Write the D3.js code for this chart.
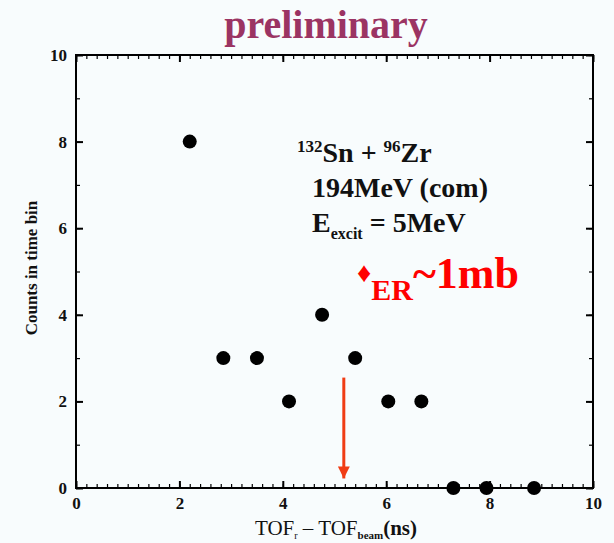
<!DOCTYPE html>
<html><head><meta charset="utf-8">
<script src="https://cdn.jsdelivr.net/npm/d3@7"></script>
<style>
html,body{margin:0;padding:0;background:#f8fcfd;}
svg{display:block;}
svg text{font-family:"Liberation Serif","Times New Roman",serif;}
</style></head>
<body>
<svg id="c" width="614" height="543"></svg>
<script>
const tofValues = [2.2, 2.85, 3.5, 4.12, 4.76, 5.4, 6.04, 6.68, 7.3, 7.94, 8.86];
const countValues = [8, 3, 3, 2, 4, 3, 2, 2, 0, 0, 0];
const xTicks = [0, 2, 4, 6, 8, 10];
const yTicks = [0, 2, 4, 6, 8, 10];
const arrowX = [5.18];
const arrowY = [2.55, 0.22];

const SERIF = "Liberation Serif, Times New Roman, serif";
const svg = d3.select("#c");
const L = 76, R = 593, T = 55, B = 488;
const x = d3.scaleLinear().domain([0, 10]).range([L, R]);
const y = d3.scaleLinear().domain([0, 10]).range([B, T]);

svg.append("rect").attr("width", 614).attr("height", 543).attr("fill", "#f8fcfd");

// title
svg.append("text").attr("x", 326).attr("y", 38).attr("text-anchor", "middle").attr("font-family", SERIF)
  .attr("font-size", 40).attr("font-weight", "bold").attr("fill", "#9b3463").text("preliminary");

// frame
svg.append("rect").attr("x", L).attr("y", T).attr("width", R - L).attr("height", B - T)
  .attr("fill", "none").attr("stroke", "#000").attr("stroke-width", 2);

// axes with inward ticks
const minorX = d3.range(0, 10.001, 0.2);
const minorY = d3.range(0, 10.001, 1);
function addAxis(axis, tr, major, minor, labels) {
  const gMinor = svg.append("g").attr("transform", tr)
    .call(axis.tickValues(minor).tickSize(-4).tickFormat(""));
  gMinor.select(".domain").remove();
  gMinor.selectAll("line").attr("stroke", "#000").attr("stroke-width", 1.2);
  const g = svg.append("g").attr("transform", tr)
    .call(axis.tickValues(major).tickSize(-7).tickPadding(labels ? 9 : 0).tickFormat(labels ? d3.format("d") : ""));
  g.select(".domain").remove();
  g.selectAll("line").attr("stroke", "#000").attr("stroke-width", 2);
  g.selectAll("text").attr("font-size", 17).attr("font-weight", "bold").attr("fill", "#111")
    .attr("font-family", SERIF);
  return g;
}
addAxis(d3.axisBottom(x), `translate(0,${B})`, xTicks, minorX, true);
addAxis(d3.axisTop(x), `translate(0,${T})`, xTicks, minorX, false);
addAxis(d3.axisLeft(y), `translate(${L},0)`, yTicks, minorY, true);
addAxis(d3.axisRight(y), `translate(${R},0)`, yTicks, minorY, false);

// axis labels
svg.append("text").attr("transform", "translate(37,268) rotate(-90)").attr("text-anchor", "middle").attr("font-family", SERIF)
  .attr("font-size", 17).attr("font-weight", "bold").attr("fill", "#111").text("Counts in time bin");

const xl = svg.append("text").attr("x", 336).attr("y", 535).attr("text-anchor", "middle").attr("font-family", SERIF)
  .attr("font-size", 21).attr("fill", "#111");
xl.append("tspan").text("TOF");
xl.append("tspan").attr("font-size", 10).attr("dy", 4).text("r");
xl.append("tspan").attr("dy", -4).text(" \u2013 TOF");
xl.append("tspan").attr("font-size", 11).attr("font-weight", "bold").attr("dy", 4).text("beam");
xl.append("tspan").attr("dy", -4).attr("font-weight", "bold").text("(ns)");

// points
svg.append("g").selectAll("circle").data(tofValues).join("circle")
  .attr("cx", d => x(d)).attr("cy", (d, i) => y(countValues[i])).attr("r", 7).attr("fill", "#000");

// arrow
svg.append("defs").append("marker").attr("id", "ah").attr("viewBox", "0 0 10 10")
  .attr("refX", 10).attr("refY", 5).attr("markerWidth", 4).attr("markerHeight", 4)
  .attr("orient", "auto-start-reverse").attr("markerUnits", "strokeWidth")
  .append("path").attr("d", "M0,0 L10,5 L0,10 z").attr("fill", "#f03c14");
svg.append("line").attr("x1", x(arrowX[0])).attr("x2", x(arrowX[0]))
  .attr("y1", y(arrowY[0])).attr("y2", y(arrowY[1]))
  .attr("stroke", "#f03c14").attr("stroke-width", 3).attr("marker-end", "url(#ah)");

// annotation
const a1 = svg.append("text").attr("x", 297).attr("y", 162).attr("font-family", SERIF).attr("font-size", 28).attr("font-weight", "bold").attr("fill", "#111");
a1.append("tspan").attr("font-size", 17).attr("dy", -10).text("132");
a1.append("tspan").attr("dy", 10).text("Sn + ");
a1.append("tspan").attr("font-size", 17).attr("dy", -10).text("96");
a1.append("tspan").attr("dy", 10).text("Zr");
svg.append("text").attr("x", 312).attr("y", 197).attr("font-family", SERIF).attr("font-size", 28).attr("font-weight", "bold").attr("fill", "#111").text("194MeV (com)");
const a3 = svg.append("text").attr("x", 312).attr("y", 232).attr("font-family", SERIF).attr("font-size", 28).attr("font-weight", "bold").attr("fill", "#111");
a3.append("tspan").text("E");
a3.append("tspan").attr("font-size", 16).attr("dy", 7).text("excit");
a3.append("tspan").attr("dy", -7).text(" = 5MeV");

const a4 = svg.append("text").attr("x", 357).attr("y", 288).attr("font-family", SERIF).attr("font-weight", "bold").attr("fill", "#ff0000");
a4.append("tspan").attr("font-size", 28).attr("dy", -6).text("\u2666");
a4.append("tspan").attr("font-size", 30).attr("dy", 18).text("ER");
a4.append("tspan").attr("font-size", 44).attr("dy", -12).text("~1mb");
</script>
</body></html>
